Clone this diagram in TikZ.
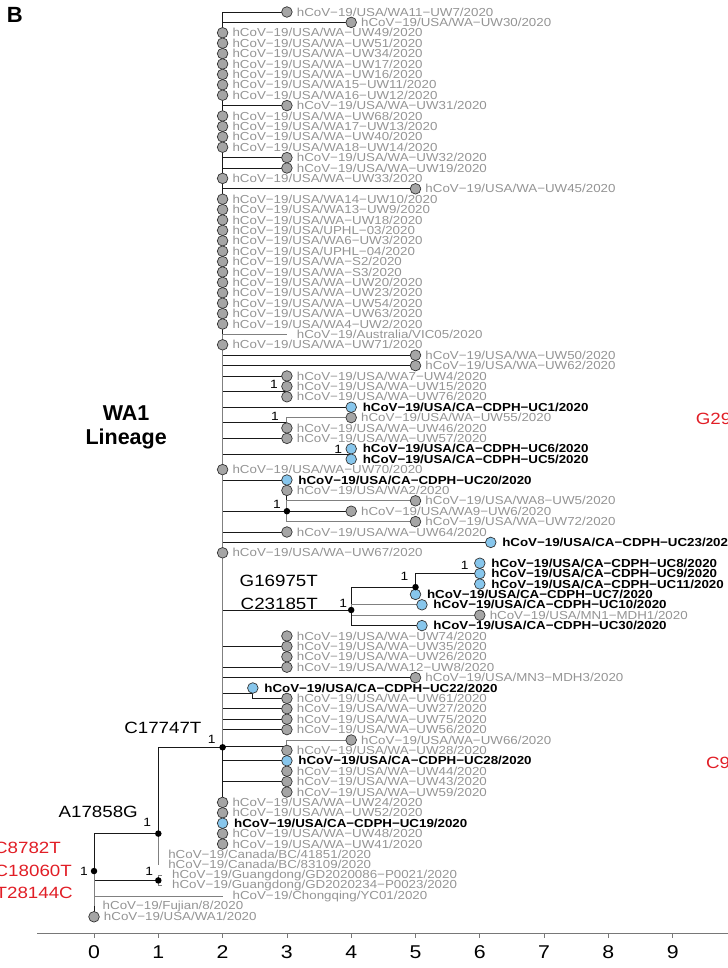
\documentclass[tikz,border=0pt]{standalone}
\usepackage{fontspec}
\setmainfont{Liberation Sans}
\newfontfamily\tipfont[FakeStretch=1.15]{Liberation Sans}
\usetikzlibrary{positioning,backgrounds}

\definecolor{tipgray}{RGB}{148,148,148}
\definecolor{dotgray}{RGB}{165,165,165}
\definecolor{dotblue}{RGB}{135,198,236}
\definecolor{mutred}{RGB}{225,30,38}
\definecolor{axgray}{RGB}{120,120,120}
\colorlet{brdark}{black!90}
\colorlet{brlight}{black!50}

\tikzset{
  br/.style={draw=brdark, line width=1bp},
  brg/.style={draw=brlight, line width=1bp},
  gtip/.style={circle, draw=black!80, line width=0.7bp, fill=dotgray, minimum size=10.6bp, inner sep=0pt},
  btip/.style={gtip, fill=dotblue},
  ndot/.style={circle, fill=black, minimum size=6.5bp, inner sep=0pt},
  glbl/.style={inner sep=0.5bp, text=tipgray, font=\tipfont\fontsize{11.6bp}{12bp}\selectfont},
  blbl/.style={inner sep=0.5bp, text=black, font=\tipfont\bfseries\fontsize{11.6bp}{12bp}\selectfont},
  boot/.style={inner sep=0pt, xshift=-11bp, yshift=7bp, font=\tipfont\fontsize{12bp}{12bp}\selectfont},
  mut/.style={anchor=east, inner sep=0pt, font=\tipfont\fontsize{16.3bp}{18bp}\selectfont},
  redmut/.style={mut, text=mutred},
}

\begin{document}
\begin{tikzpicture}[x=64.3bp, y=-10.4bp]
\useasboundingbox (-1.462,-0.154) rectangle (9.845,92.923);

% inner nodes of the tree
\coordinate (nR) at (0,83.6);
\coordinate (nA) at (1,80);
\coordinate (nG) at (1,84.5);
\coordinate (n2) at (2,71.7);
\coordinate (cA) at (3,37.5);
\coordinate (cB) at (3,40.5);
\coordinate (cC) at (4,43.5);
\coordinate (cD) at (3,49);
\coordinate (cE1) at (3,62);
\coordinate (cE2) at (3,64);
\coordinate (cF) at (2.47,66.5);
\coordinate (cG) at (3,71.6);
\coordinate (cH) at (3,75);
\coordinate (cI) at (4,58.5);
\coordinate (cJ) at (5,56.3);
\coordinate (cK) at (6,55);

\begin{scope}[on background layer]
\draw[br] (nR) |- (nA);
\draw[br] (nR) |- (nG);
\draw[br] (nA) |- (n2);
\foreach \k in {cA,cB,cC,cD,cE1,cE2,cF,cG,cH,cI}
  \draw[br] (n2) |- (\k);
\draw[br] (cI) |- (cJ);
\draw[br] (cJ) |- (cK);
\end{scope}

% grey tips
\foreach \y/\x/\p/\s/\id in {
  1/3/n2/brdark/WA11−UW7, 2/4/n2/brdark/WA−UW30, 3/2/n2/brdark/WA−UW49,
  4/2/n2/brdark/WA−UW51, 5/2/n2/brdark/WA−UW34, 6/2/n2/brdark/WA−UW17,
  7/2/n2/brdark/WA−UW16, 8/2/n2/brdark/WA15−UW11, 9/2/n2/brdark/WA16−UW12,
  10/3/n2/brdark/WA−UW31, 11/2/n2/brdark/WA−UW68, 12/2/n2/brdark/WA17−UW13,
  13/2/n2/brdark/WA−UW40, 14/2/n2/brdark/WA18−UW14, 15/3/n2/brdark/WA−UW32,
  16/3/n2/brdark/WA−UW19, 17/2/n2/brdark/WA−UW33, 18/5/n2/brdark/WA−UW45,
  19/2/n2/brdark/WA14−UW10, 20/2/n2/brdark/WA13−UW9, 21/2/n2/brdark/WA−UW18,
  22/2/n2/brdark/UPHL−03, 23/2/n2/brdark/WA6−UW3, 24/2/n2/brdark/UPHL−04,
  25/2/n2/brdark/WA−S2, 26/2/n2/brdark/WA−S3, 27/2/n2/brdark/WA−UW20,
  28/2/n2/brdark/WA−UW23, 29/2/n2/brdark/WA−UW54, 30/2/n2/brdark/WA−UW63,
  31/2/n2/brdark/WA4−UW2, 33/2/n2/brdark/WA−UW71, 34/5/n2/brdark/WA−UW50,
  35/5/n2/brdark/WA−UW62, 36/3/n2/brdark/WA7−UW4, 37/3/cA/brdark/WA−UW15,
  38/3/cA/brdark/WA−UW76, 40/4/cB/brlight/WA−UW55, 41/3/cB/brdark/WA−UW46,
  42/3/n2/brdark/WA−UW57, 45/2/n2/brdark/WA−UW70, 47/3/cD/brdark/WA2,
  48/5/cD/brlight/WA8−UW5, 49/4/cD/brdark/WA9−UW6, 50/5/cD/brlight/WA−UW72,
  51/3/n2/brdark/WA−UW64, 53/2/n2/brdark/WA−UW67, 59/6/cI/brlight/MN1−MDH1,
  61/3/cE1/brdark/WA−UW74, 62/3/cE1/brdark/WA−UW35, 63/3/cE2/brdark/WA−UW26,
  64/3/cE2/brdark/WA12−UW8, 65/5/n2/brdark/MN3−MDH3, 67/3/cF/brdark/WA−UW61,
  68/3/n2/brdark/WA−UW27, 69/3/n2/brdark/WA−UW75, 70/3/n2/brdark/WA−UW56,
  71/4/cG/brlight/WA−UW66, 72/3/cG/brlight/WA−UW28, 74/3/cH/brdark/WA−UW44,
  75/3/cH/brdark/WA−UW43, 76/3/cH/brdark/WA−UW59, 77/2/n2/brdark/WA−UW24,
  78/2/n2/brdark/WA−UW52, 80/2/n2/brdark/WA−UW48, 81/2/n2/brdark/WA−UW41,
  88/0/nR/brdark/WA1}{
  \coordinate (t\y) at (\x,\y);
  \begin{scope}[on background layer]
    \draw[br, draw=\s] (\p) |- (t\y);
  \end{scope}
  \node[gtip] (c\y) at (t\y) {};
  \node[glbl, right=3.6bp of c\y] (l\y) {hCoV−19/USA/\id/2020};
}

% CA tips
\foreach \y/\x/\p/\s/\id in {
  39/4/n2/brdark/UC1, 43/4/cC/brdark/UC6, 44/4/cC/brdark/UC5,
  46/3/n2/brdark/UC20, 52/6.17/n2/brdark/UC23, 54/6/cK/brdark/UC8,
  55/6/cK/brdark/UC9, 56/6/cK/brdark/UC11, 57/5/cJ/brdark/UC7,
  58/5.1/cI/brlight/UC10, 60/5.1/cI/brdark/UC30, 66/2.47/cF/brdark/UC22,
  73/3/n2/brdark/UC28, 79/2/n2/brdark/UC19}{
  \coordinate (t\y) at (\x,\y);
  \begin{scope}[on background layer]
    \draw[br, draw=\s] (\p) |- (t\y);
  \end{scope}
  \node[btip] (c\y) at (t\y) {};
  \node[blbl, right=5.2bp of c\y] (l\y) {hCoV−19/USA/CA−CDPH−\id/2020};
}

% tips without a dot
\coordinate (t32) at (3,32);
\coordinate (t82) at (1,82);
\coordinate (t83) at (1,83);
\coordinate (t84) at (1.06,84);
\coordinate (t85) at (1.06,85);
\coordinate (t86) at (2,86);
\coordinate (t87) at (0,87);
\begin{scope}[on background layer]
\draw[brg] (n2) |- (t32);
\draw[brg] (nA) |- (t82);
\draw[brg] (nA) |- (t83);
\draw[brg] (nG) |- (t84);
\draw[brg] (nG) |- (t85);
\draw[brg] (nR) |- (t86);
\draw[brg] (nR) |- (t87);
\end{scope}
\node[glbl, right=9.3bp of t32] (l32) {hCoV−19/Australia/VIC05/2020};
\node[glbl, right=9.3bp of t82] (l82) {hCoV−19/Canada/BC/41851/2020};
\node[glbl, right=9.3bp of t83] (l83) {hCoV−19/Canada/BC/83109/2020};
\node[glbl, right=9.3bp of t84] (l84) {hCoV−19/Guangdong/GD2020086−P0021/2020};
\node[glbl, right=9.3bp of t85] (l85) {hCoV−19/Guangdong/GD2020234−P0023/2020};
\node[glbl, right=9.3bp of t86] (l86) {hCoV−19/Chongqing/YC01/2020};
\node[glbl, right=8bp of t87] (l87) {hCoV−19/Fujian/8/2020};

% node dots and support values
\foreach \k in {nR,nA,nG,n2,cD,cI,cJ}
  \node[ndot] (d\k) at (\k) {};
\node[boot, yshift=-7bp, xshift=1bp] (bR) at (nR) {1};
\node[boot, yshift=4bp] (bA) at (nA) {1};
\node[boot, xshift=2bp, yshift=2bp] (bG) at (nG) {1};
\node[boot, yshift=1bp] (b2) at (n2) {1};
\node[boot, xshift=-2bp] (bcA) at (cA) {1};
\node[boot, xshift=-1bp, yshift=-1bp] (bcB) at (cB) {1};
\node[boot, xshift=-2bp, yshift=-2bp] (bcC) at (cC) {1};
\node[boot, xshift=1bp] (bcD) at (cD) {1};
\node[boot, xshift=3bp] (bcI) at (cI) {1};
\node[boot, yshift=4bp] (bcJ) at (cJ) {1};
\node[boot, xshift=-4bp, yshift=1.6bp] (bcK) at (cK) {1};

% mutations
\node[mut] (mA) at (0.684,77.9) {A17858G};
\node[mut] (mC) at (1.674,69.8) {C17747T};
\node[mut] (mG) at (3.484,55.7) {G16975T};
\node[mut] (mT) at (3.484,57.9) {C23185T};
\node[redmut] (r1) at (-0.513,81.4) {C8782T};
\node[redmut] (r2) at (-0.342,83.6) {C18060T};
\node[redmut] (r3) at (-0.327,85.7) {T28144C};
\node[redmut, anchor=west] (r4) at (9.356,40.1) {G29};
\node[redmut, anchor=west] (r5) at (9.516,73.2) {C9};

\node[font=\bfseries\fontsize{21.5bp}{24bp}\selectfont, align=center, inner sep=0pt] (lin) at (0.5,40.93) {WA1\\Lineage};
\node[font=\bfseries\fontsize{22bp}{24bp}\selectfont, inner sep=0pt] (pB) at (-1.23,1.29) {B};

% axis
\draw[axgray, line width=1bp] (-0.886,89.56) -- (9.9,89.56);
\foreach \x in {0,...,9} {
  \draw[axgray, line width=0.8bp] (\x,89.56) -- ++(0,-5bp);
  \node[font=\tipfont\fontsize{18.5bp}{20bp}\selectfont, inner sep=0pt] (x\x) at (\x,91.4) {\x};
}
\end{tikzpicture}
\end{document}
